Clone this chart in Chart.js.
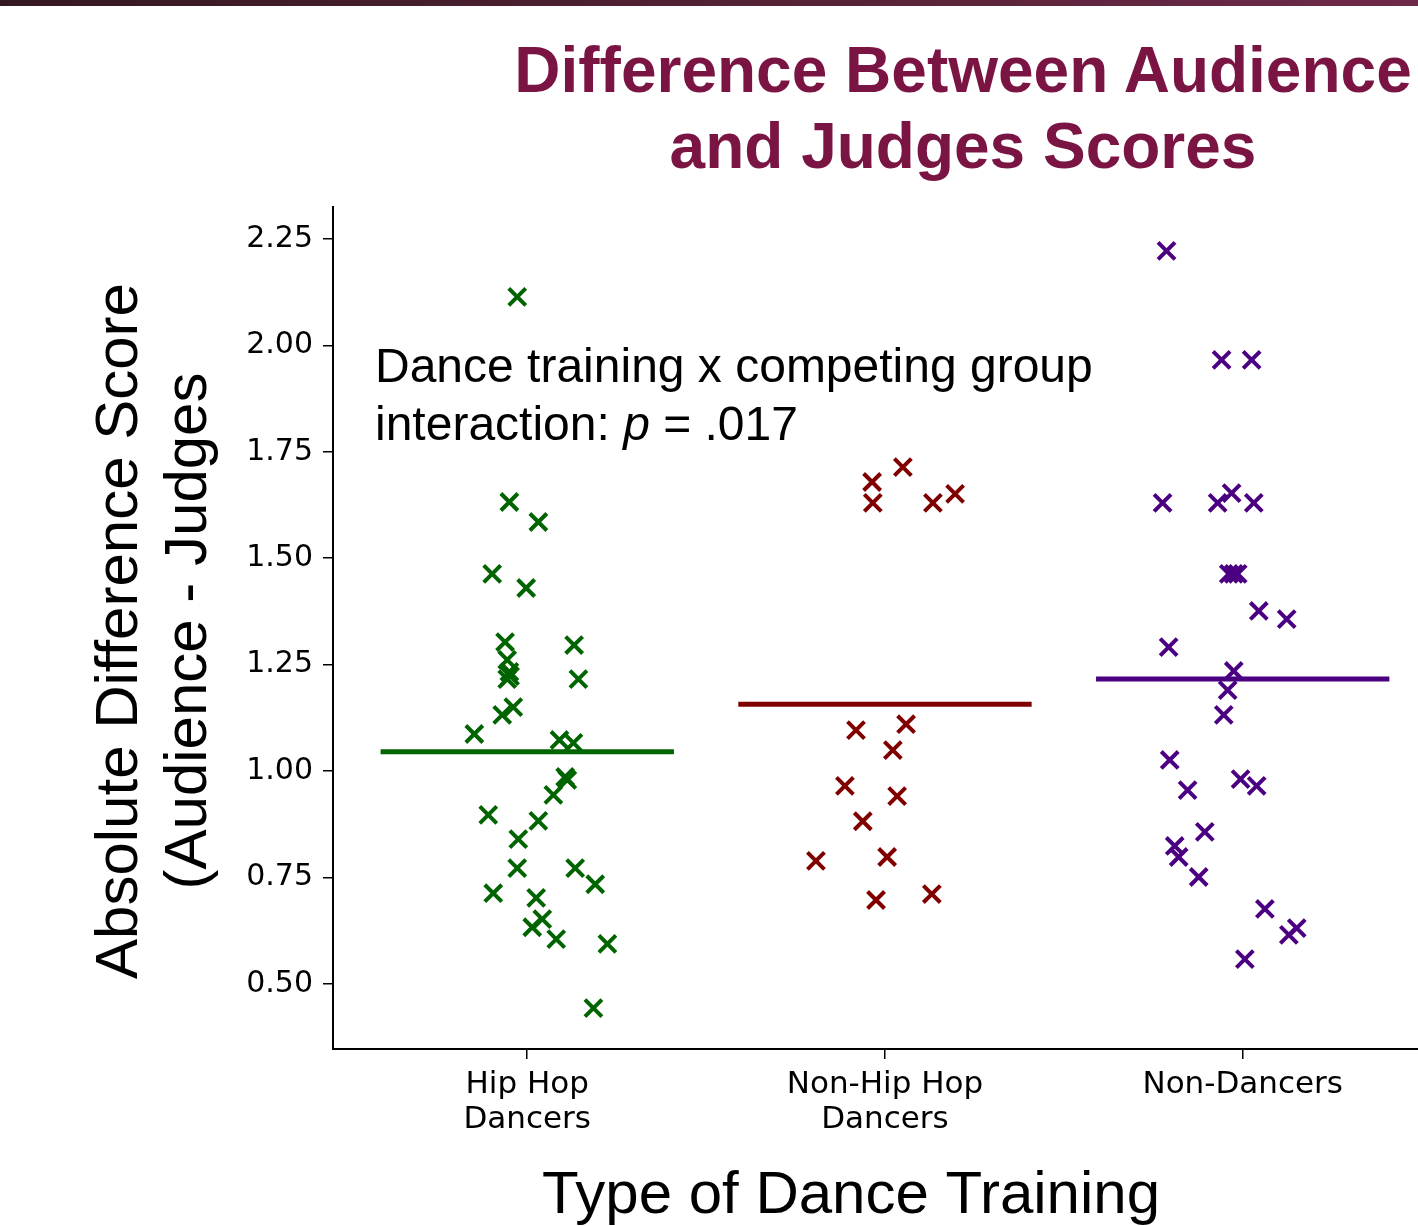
<!DOCTYPE html>
<html>
<head>
<meta charset="utf-8">
<script src="https://cdn.jsdelivr.net/npm/chart.js@4.4.1/dist/chart.umd.min.js"></script>
<style>
  body { margin: 0; background: #fff; width: 1418px; height: 1226px; overflow: hidden; position: relative; }
  .topbar { position: absolute; left: 0; top: 0; width: 1418px; height: 6px; background: linear-gradient(90deg, #341820, #6e2a48); }
  .title { position: absolute; left: 513px; width: 900px; top: 32px; text-align: center; white-space: nowrap;
           font: bold 64px 'Liberation Sans', Arial, sans-serif; line-height: 76px; color: #7a1443; z-index: 2; }
  #scoreChart { position: absolute; left: 0; top: 0; }
</style>
</head>
<body>
<div class="topbar"></div>
<div class="title">Difference Between Audience<br>and Judges Scores</div>
<canvas id="scoreChart" width="1418" height="1226"></canvas>
<script>
// DATA
const categories = [['Hip Hop', 'Dancers'], ['Non-Hip Hop', 'Dancers'], ['Non-Dancers']];
const yTicks = [0.5, 0.75, 1.0, 1.25, 1.5, 1.75, 2.0, 2.25];

// horizontal jitter (category units) and score for each dancer
const hipHopJitter = [-0.028, -0.050, 0.031, -0.098, -0.003, -0.062, 0.131, -0.056, -0.050, -0.056, -0.048,
  0.143, -0.039, -0.070, -0.148, 0.090, 0.129, 0.106, 0.112, 0.073, -0.109, 0.031, -0.025, -0.028, 0.134,
  0.190, -0.095, 0.025, 0.042, 0.014, 0.081, 0.224, 0.185];
const hipHopScores = [2.114, 1.632, 1.585, 1.463, 1.430, 1.303, 1.296, 1.261, 1.233, 1.216, 1.223,
  1.216, 1.150, 1.132, 1.087, 1.073, 1.066, 0.986, 0.979, 0.944, 0.897, 0.883, 0.840, 0.772, 0.772,
  0.734, 0.713, 0.702, 0.652, 0.633, 0.605, 0.594, 0.443];

const nonHipHopJitter = [0.050, -0.036, -0.034, 0.134, 0.196, -0.081, 0.059, 0.022, -0.112, 0.034,
  -0.062, -0.193, 0.006, -0.025, 0.131];
const nonHipHopScores = [1.714, 1.679, 1.630, 1.630, 1.651, 1.096, 1.110, 1.049, 0.965, 0.941,
  0.882, 0.789, 0.798, 0.697, 0.711];

const nonDancerJitter = [-0.213, -0.059, 0.025, -0.224, -0.070, -0.031, 0.031, -0.039, -0.025, -0.014,
  0.045, 0.123, -0.207, -0.025, -0.042, -0.053, -0.204, -0.154, -0.006, 0.039, -0.106, -0.190, -0.179,
  -0.123, 0.062, 0.151, 0.129, 0.006];
const nonDancerScores = [2.222, 1.966, 1.966, 1.630, 1.630, 1.653, 1.630, 1.463, 1.463, 1.463,
  1.376, 1.357, 1.291, 1.235, 1.190, 1.132, 1.026, 0.955, 0.981, 0.965, 0.857, 0.824, 0.798,
  0.751, 0.676, 0.631, 0.615, 0.558];

const groupMeans = [1.045, 1.157, 1.216];

const groupColors = ['#006400', '#800000', '#4b0082'];
const MEAN_HALF_WIDTH = 0.41;

const groups = [
  { jitter: hipHopJitter, scores: hipHopScores },
  { jitter: nonHipHopJitter, scores: nonHipHopScores },
  { jitter: nonDancerJitter, scores: nonDancerScores }
];

const datasets = [];
groups.forEach((g, i) => {
  datasets.push({
    type: 'line',
    data: [{ x: i - MEAN_HALF_WIDTH, y: groupMeans[i] }, { x: i + MEAN_HALF_WIDTH, y: groupMeans[i] }],
    borderColor: groupColors[i],
    borderWidth: 5,
    pointRadius: 0,
    fill: false
  });
  datasets.push({
    type: 'scatter',
    data: g.scores.map((v, k) => ({ x: i + g.jitter[k], y: v })),
    pointStyle: 'crossRot',
    pointRadius: 12,
    pointBorderWidth: 4,
    borderColor: groupColors[i],
    backgroundColor: groupColors[i]
  });
});

// text drawn straight on the canvas: axis titles and the annotation
const textPlugin = {
  id: 'textPlugin',
  afterDraw(chart) {
    const ctx = chart.ctx;
    ctx.save();
    ctx.fillStyle = '#000';
    ctx.textBaseline = 'alphabetic';

    // y axis title (two lines, rotated)
    ctx.font = '60px "Liberation Sans", Arial, sans-serif';
    ctx.textAlign = 'center';
    [['Absolute Difference Score', 137], ['(Audience - Judges', 206]].forEach(([txt, x]) => {
      ctx.save();
      ctx.translate(x, 631);
      ctx.rotate(-Math.PI / 2);
      ctx.fillText(txt, 0, 0);
      ctx.restore();
    });

    // x axis title
    ctx.fillText('Type of Dance Training', 851, 1213);

    // annotation
    ctx.textAlign = 'left';
    ctx.font = '48px "Liberation Sans", Arial, sans-serif';
    ctx.fillText('Dance training x competing group', 375, 382);
    let x = 375;
    const part1 = 'interaction: ';
    ctx.fillText(part1, x, 440);
    x += ctx.measureText(part1).width;
    ctx.font = 'italic 48px "Liberation Sans", Arial, sans-serif';
    ctx.fillText('p', x, 440);
    x += ctx.measureText('p').width;
    ctx.font = '48px "Liberation Sans", Arial, sans-serif';
    ctx.fillText(' = .017', x, 440);
    ctx.restore();
  }
};

new Chart(document.getElementById('scoreChart'), {
  type: 'scatter',
  data: { datasets: datasets },
  options: {
    responsive: false,
    animation: false,
    layout: { autoPadding: false, padding: { top: 207, right: 0, left: 0, bottom: 0 } },
    plugins: {
      legend: { display: false },
      tooltip: { enabled: false }
    },
    scales: {
      x: {
        type: 'linear',
        min: -0.543,
        max: 2.49,
        afterBuildTicks: (scale) => { scale.ticks = categories.map((c, i) => ({ value: i })); },
        afterFit: (scale) => {
          scale.height = 177;
          scale.paddingLeft = 0;
          scale.paddingRight = 0;
        },
        grid: { drawOnChartArea: false, drawTicks: true, tickLength: 10, color: '#000', lineWidth: 1.5 },
        border: { display: true, color: '#000', width: 2 },
        ticks: {
          color: '#000',
          padding: 8,
          maxRotation: 0,
          font: { family: 'DejaVu Sans', size: 31, lineHeight: 1.13 },
          callback: (value) => categories[value]
        }
      },
      y: {
        min: 0.347,
        max: 2.325,
        afterBuildTicks: (scale) => { scale.ticks = yTicks.map(v => ({ value: v })); },
        afterFit: (scale) => {
          scale.width = 333;
          scale.paddingTop = 0;
          scale.paddingBottom = 0;
        },
        grid: { drawOnChartArea: false, drawTicks: true, tickLength: 10, color: '#000', lineWidth: 1.5 },
        border: { display: true, color: '#000', width: 2 },
        ticks: {
          color: '#000',
          padding: 10,
          font: { family: 'DejaVu Sans', size: 30 },
          callback: (value) => value.toFixed(2)
        }
      }
    }
  },
  plugins: [textPlugin]
});
</script>
</body>
</html>
